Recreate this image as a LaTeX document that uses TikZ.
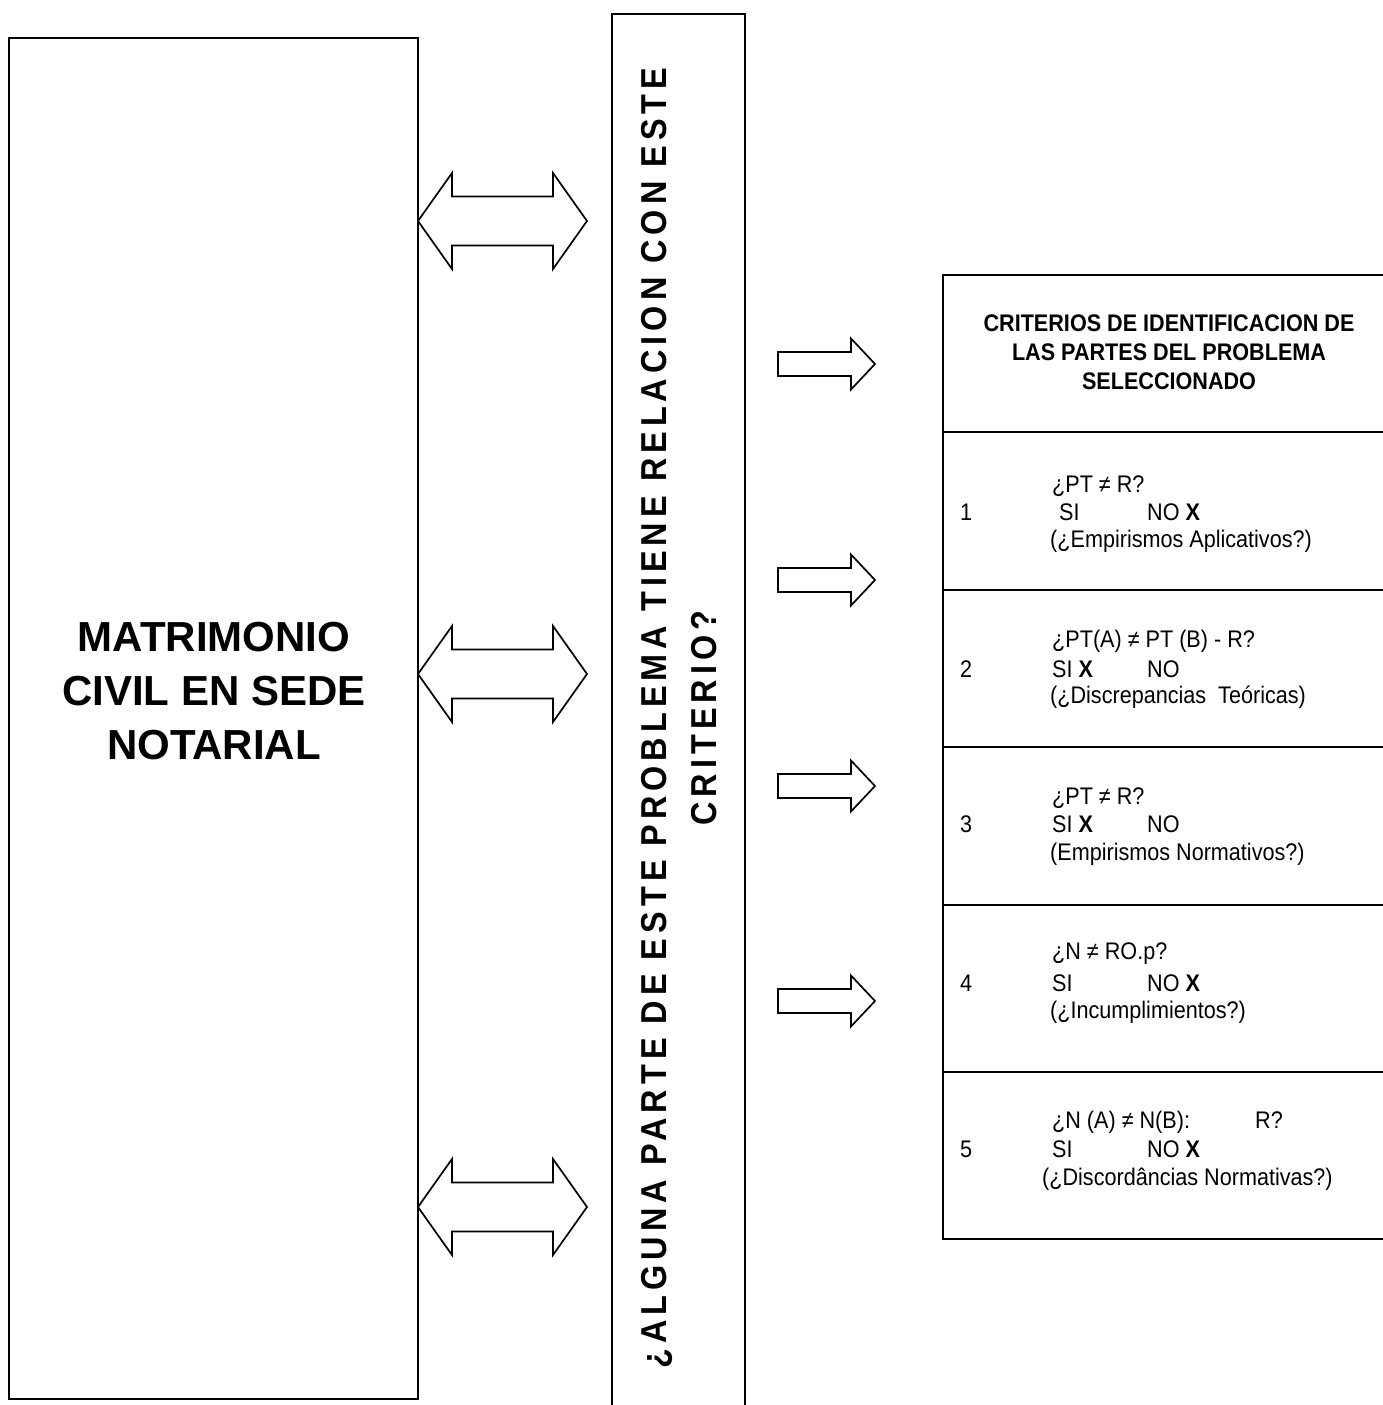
\documentclass[tikz,border=0pt]{standalone}
\usepackage{fontspec}
\setmainfont{Liberation Sans}
\newfontfamily\narrowfont{Liberation Sans}[FakeStretch=0.9]
\newfontfamily\vertfont{Liberation Sans}[FakeStretch=0.9,LetterSpace=14]
\tikzset{
  box/.style={draw, line width=2pt, inner sep=0pt},
  arrowline/.style={draw, line width=1.7pt, line join=miter, fill=white},
  dblarrow/.pic={\path[arrowline] (-84.5,0) -- (-50.5,-48) -- (-50.5,-24.5) -- (50.5,-24.5) -- (50.5,-48) -- (84.5,0) -- (50.5,48) -- (50.5,24.5) -- (-50.5,24.5) -- (-50.5,48) -- cycle;},
  rarrow/.pic={\path[arrowline] (0,-12) -- (73,-12) -- (73,-25.5) -- (97,0) -- (73,25.5) -- (73,12) -- (0,12) -- cycle;},
  cell/.style={anchor=base west, inner sep=0pt, font=\narrowfont\fontsize{24}{28}\selectfont},
  bigtext/.style={align=center, inner sep=0pt, font=\bfseries\fontsize{42}{54}\selectfont},
  hdrtext/.style={align=center, inner sep=0pt, font=\narrowfont\bfseries\fontsize{24}{29}\selectfont},
  verttext/.style={rotate=90, align=center, inner sep=0pt, font=\vertfont\bfseries\fontsize{36}{50}\selectfont},
}
\begin{document}
\begin{tikzpicture}[x=1pt,y=-1pt]
\path[use as bounding box, fill=white] (0,0) rectangle (1383,1405);
% left box
\node[box, minimum width=409pt, minimum height=1361pt] (left) at (213.5,718.5) {};
\node[bigtext, anchor=north] (title) at (214,622) {MATRIMONIO\\CIVIL EN SEDE\\NOTARIAL};
% middle box
\node[box, minimum width=133pt, minimum height=1400pt] (mid) at (678.5,714) {};
\node[verttext] (question) at (679,718) {¿ALGUNA PARTE DE ESTE PROBLEMA TIENE RELACION CON ESTE\\CRITERIO?};
% double arrows
\pic (d1) at (502.5,221) {dblarrow};
\pic (d2) at (502.5,674) {dblarrow};
\pic (d3) at (502.5,1207) {dblarrow};
% right arrows
\pic (s1) at (778,364) {rarrow};
\pic (s2) at (778,580) {rarrow};
\pic (s3) at (778,786) {rarrow};
\pic (s4) at (778,1001) {rarrow};
% table rows
\node[box, minimum width=447pt, minimum height=157pt] (hdr) at (1166.5,353.5) {};
\node[box, minimum width=447pt, minimum height=158pt] (row1) at (1166.5,511) {};
\node[box, minimum width=447pt, minimum height=157pt] (row2) at (1166.5,668.5) {};
\node[box, minimum width=447pt, minimum height=158pt] (row3) at (1166.5,826) {};
\node[box, minimum width=447pt, minimum height=167pt] (row4) at (1166.5,988.5) {};
\node[box, minimum width=447pt, minimum height=167pt] (row5) at (1166.5,1155.5) {};
% header text
\node[hdrtext, anchor=north] (hdrt) at (1169,314.8) {CRITERIOS DE IDENTIFICACION DE\\LAS PARTES DEL PROBLEMA\\SELECCIONADO};
% row 1
\node[cell] (r1a) at (1052,492) {¿PT ≠ R?};
\node[cell] (r1n) at (960,520) {1};
\node[cell] (r1si) at (1059,520) {SI};
\node[cell] (r1no) at (1147,520) {NO \textbf{X}};
\node[cell] (r1c) at (1050,547) {(¿Empirismos Aplicativos?)};
% row 2
\node[cell] (r2a) at (1052,647) {¿PT(A) ≠ PT (B) - R?};
\node[cell] (r2n) at (960,677) {2};
\node[cell] (r2si) at (1052,677) {SI \textbf{X}};
\node[cell] (r2no) at (1147,677) {NO};
\node[cell] (r2c) at (1050,703) {(¿Discrepancias\ \ Teóricas)};
% row 3
\node[cell] (r3a) at (1052,804) {¿PT ≠ R?};
\node[cell] (r3n) at (960,832) {3};
\node[cell] (r3si) at (1052,832) {SI \textbf{X}};
\node[cell] (r3no) at (1147,832) {NO};
\node[cell] (r3c) at (1050,860) {(Empirismos Normativos?)};
% row 4
\node[cell] (r4a) at (1052,959) {¿N ≠ RO.p?};
\node[cell] (r4n) at (960,991) {4};
\node[cell] (r4si) at (1052,991) {SI};
\node[cell] (r4no) at (1147,991) {NO \textbf{X}};
\node[cell] (r4c) at (1050,1018) {(¿Incumplimientos?)};
% row 5
\node[cell] (r5a) at (1052,1128) {¿N (A) ≠ N(B):};
\node[cell] (r5r) at (1255,1128) {R?};
\node[cell] (r5n) at (960,1157) {5};
\node[cell] (r5si) at (1052,1157) {SI};
\node[cell] (r5no) at (1147,1157) {NO \textbf{X}};
\node[cell] (r5c) at (1042,1185) {(¿Discordâncias Normativas?)};
\end{tikzpicture}
\end{document}
